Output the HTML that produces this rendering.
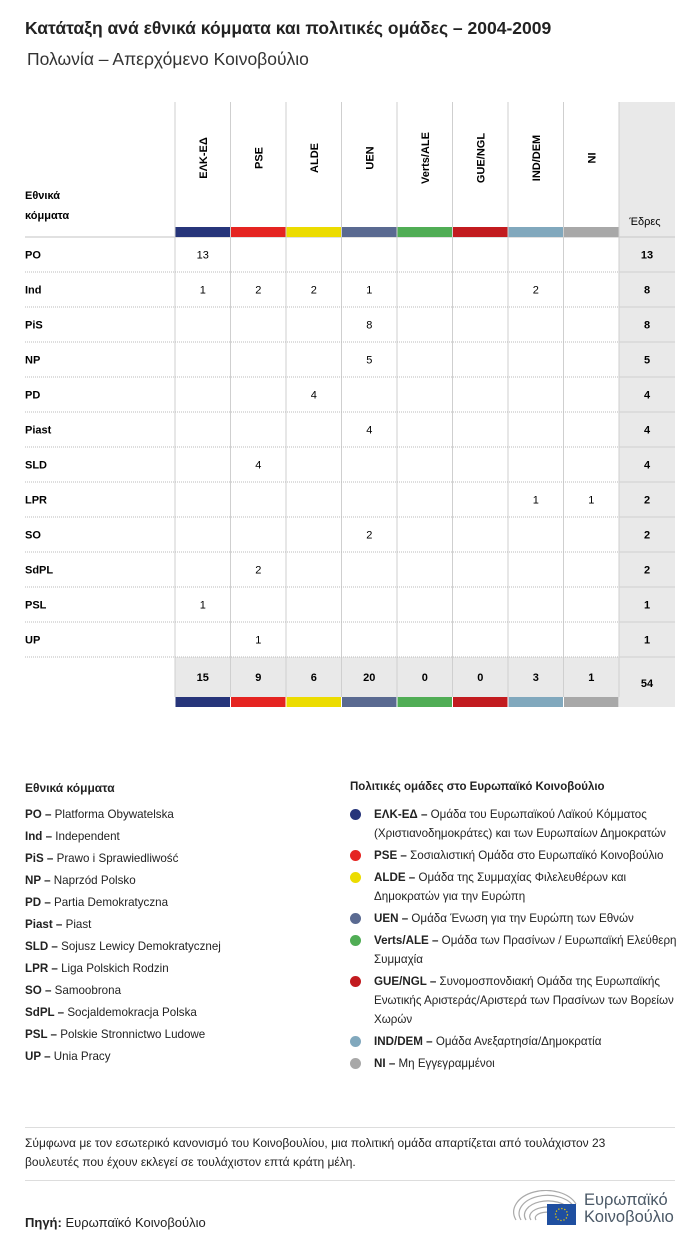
<!DOCTYPE html>
<html><head><meta charset="utf-8">
<style>
body{margin:0;background:#fff;font-family:"Liberation Sans","DejaVu Sans",sans-serif;color:#222;}
#root{position:relative;width:700px;height:1248px;overflow:hidden;}
.abs{position:absolute;}
.b{font-weight:bold;}
.leg{font-size:11.6px;line-height:22px;}
.gl{font-size:11.6px;line-height:19px;}
</style></head><body>
<div id="root">
<div class="abs b" style="left:25px;top:18px;font-size:17.5px">Κατάταξη ανά εθνικά κόμματα και πολιτικές ομάδες – 2004-2009</div>
<div class="abs" style="left:27px;top:49px;font-size:17.5px;color:#333">Πολωνία – Απερχόμενο Κοινοβούλιο</div>
<svg id="tbl" class="abs" style="left:0;top:0" width="700" height="720"></svg>

<div class="abs b" style="left:25px;top:781px;font-size:12px">Εθνικά κόμματα</div>
<div id="natleg" class="abs leg" style="left:25px;top:804px"></div>

<div class="abs b" style="left:350px;top:781px;font-size:11.5px">Πολιτικές ομάδες στο Ευρωπαϊκό Κοινοβούλιο</div>
<div id="grpleg" class="abs gl" style="left:350px;top:805px;width:330px"></div>

<div class="abs" style="left:25px;top:1127px;width:650px;border-top:1px solid #ddd"></div>
<div class="abs" style="left:25px;top:1134px;font-size:12px;line-height:19px;width:650px">Σύμφωνα με τον εσωτερικό κανονισμό του Κοινοβουλίου, μια πολιτική ομάδα απαρτίζεται από τουλάχιστον 23<br>βουλευτές που έχουν εκλεγεί σε τουλάχιστον επτά κράτη μέλη.</div>
<div class="abs" style="left:25px;top:1180px;width:650px;border-top:1px solid #ddd"></div>
<div class="abs" style="left:25px;top:1215px;font-size:13px"><b>Πηγή:</b> Ευρωπαϊκό Κοινοβούλιο</div>
<svg class="abs" style="left:512px;top:1190px" width="70" height="38">
<g fill="none" stroke="#aaa" stroke-width="1.2">
<path d="M4 30 A30 20 0 0 1 64 14"/><path d="M9 30 A25 16 0 0 1 62 17"/><path d="M14 30 A20 12 0 0 1 58 20"/><path d="M19 30 A15 8 0 0 1 52 23"/><path d="M24 30 A10 5 0 0 1 46 26"/>
</g>
<rect x="35" y="14" width="29" height="21" fill="#1f4fa0"/>
<circle cx="49.5" cy="24.5" r="6" fill="none" stroke="#f5d000" stroke-width="1.3" stroke-dasharray="1.2 1.9"/>
</svg>
<div class="abs" style="left:584px;top:1192px;font-size:16.5px;line-height:17px;color:#4a5866">Ευρωπαϊκό<br>Κοινοβούλιο</div>
</div>
<script>
const groups=["ΕΛΚ-ΕΔ","PSE","ALDE","UEN","Verts/ALE","GUE/NGL","IND/DEM","NI"];
const groupColors=["#27357a","#e52421","#ecdc00","#5a6a91","#50ad55","#c21b1f","#81a8bd","#a8a8a8"];
const parties=["PO","Ind","PiS","NP","PD","Piast","SLD","LPR","SO","SdPL","PSL","UP"];
const partyNames=["Platforma Obywatelska","Independent","Prawo i Sprawiedliwość","Naprzód Polsko","Partia Demokratyczna","Piast","Sojusz Lewicy Demokratycznej","Liga Polskich Rodzin","Samoobrona","Socjaldemokracja Polska","Polskie Stronnictwo Ludowe","Unia Pracy"];
const seatsEPP=[13,1,0,0,0,0,0,0,0,0,1,0];
const seatsPSE=[0,2,0,0,0,0,4,0,0,2,0,1];
const seatsALDE=[0,2,0,0,4,0,0,0,0,0,0,0];
const seatsUEN=[0,1,8,5,0,4,0,0,2,0,0,0];
const seatsVerts=[0,0,0,0,0,0,0,0,0,0,0,0];
const seatsGUE=[0,0,0,0,0,0,0,0,0,0,0,0];
const seatsIND=[0,2,0,0,0,0,0,1,0,0,0,0];
const seatsNI=[0,0,0,0,0,0,0,1,0,0,0,0];
const groupDescs=["Ομάδα του Ευρωπαϊκού Λαϊκού Κόμματος (Χριστιανοδημοκράτες) και των Ευρωπαίων Δημοκρατών","Σοσιαλιστική Ομάδα στο Ευρωπαϊκό Κοινοβούλιο","Ομάδα της Συμμαχίας Φιλελευθέρων και Δημοκρατών για την Ευρώπη","Ομάδα Ένωση για την Ευρώπη των Εθνών","Ομάδα των Πρασίνων / Ευρωπαϊκή Ελεύθερη Συμμαχία","Συνομοσπονδιακή Ομάδα της Ευρωπαϊκής Ενωτικής Αριστεράς/Αριστερά των Πρασίνων των Βορείων Χωρών","Ομάδα Ανεξαρτησία/Δημοκρατία","Μη Εγγεγραμμένοι"];

const series=[seatsEPP,seatsPSE,seatsALDE,seatsUEN,seatsVerts,seatsGUE,seatsIND,seatsNI];
const NS="http://www.w3.org/2000/svg";
const svg=document.getElementById('tbl');
const colX=i=>175+i*55.5; const colW=55.5;
const seatX=619, seatW=56;
const headTop=102, headBot=237, rowH=35;
const rowY=r=>headBot+r*rowH;
function el(tag,attrs,txt){const e=document.createElementNS(NS,tag);for(const k in attrs)e.setAttribute(k,attrs[k]);if(txt!==undefined)e.textContent=txt;svg.appendChild(e);return e;}
const totY=rowY(parties.length), totBot=totY+40;
let e=el('rect',{x:seatX,y:headTop,width:seatW,height:totBot+10-headTop,fill:'#e9e9e9'});


e=el('rect',{x:colX(0),y:totY,width:colW*8,height:40,fill:'#e9e9e9'});


for(let i=0;i<=8;i++){e=el('line',{x1:colX(i),x2:colX(i),y1:headTop,y2:totBot,stroke:'#cfcfcf','stroke-width':1});

}
e=el('line',{x1:25,x2:675,y1:headBot,y2:headBot,stroke:'#cfcfcf','stroke-width':1.2});


e=el('text',{x:25,y:199,'font-size':11,'font-weight':'bold'},'Εθνικά');


e=el('text',{x:25,y:219,'font-size':11,'font-weight':'bold'},'κόμματα');


e=el('text',{x:seatX+26,y:225,'font-size':11,'text-anchor':'middle'},'Έδρες');


groups.forEach((g,i)=>{
  const cx=colX(i)+colW/2;
  e=el('text',{x:0,y:0,'font-size':11,'font-weight':'bold','text-anchor':'middle',transform:`translate(${cx+4},${158}) rotate(-90)`},g);
  
  
  e=el('rect',{x:colX(i)+0.5,y:227,width:colW-1,height:10,fill:groupColors[i]});
  
  
  e=el('rect',{x:colX(i)+0.5,y:totBot,width:colW-1,height:10,fill:groupColors[i]});
  
  
});
let grand=0;
parties.forEach((p,r)=>{
  const y=rowY(r), cy=y+rowH/2+4;
  e=el('text',{x:25,y:cy,'font-size':11,'font-weight':'bold'},p);
  
  
  let sum=0;
  series.forEach((s,i)=>{const v=s[r];sum+=v;if(v){
    e=el('text',{x:colX(i)+colW/2,y:cy,'font-size':11,'text-anchor':'middle'},v);
    
    }});
  grand+=sum;
  e=el('text',{x:seatX+28,y:cy,'font-size':11,'font-weight':'bold','text-anchor':'middle'},sum);
  
  
  e=el('line',{x1:25,x2:seatX,y1:y+rowH,y2:y+rowH,stroke:'#bbb','stroke-dasharray':'1 1'});
  
  
  e=el('line',{x1:seatX,x2:seatX+seatW,y1:y+rowH,y2:y+rowH,stroke:'#d0d0d0'});
  
  
});
series.forEach((s,i)=>{const t=s.reduce((a,b)=>a+b,0);
  e=el('text',{x:colX(i)+colW/2,y:totY+24,'font-size':11,'font-weight':'bold','text-anchor':'middle'},t);
  
  });
e=el('text',{x:seatX+28,y:totY+30,'font-size':11,'font-weight':'bold','text-anchor':'middle'},grand);



const nl=document.getElementById('natleg');
parties.forEach((p,i)=>{const d=document.createElement('div');


d.innerHTML=`<b>${p} –</b> ${partyNames[i]}`;nl.appendChild(d);});
const gl=document.getElementById('grpleg');
groups.forEach((g,i)=>{const d=document.createElement('div');


d.style.cssText='position:relative;padding-left:24px;margin-bottom:3px';
d.innerHTML=`<span style="position:absolute;left:0;top:4px;width:11px;height:11px;border-radius:50%;background:${groupColors[i]}"></span><b>${g} –</b> ${groupDescs[i]}`;
gl.appendChild(d);});
</script>
</body></html>
